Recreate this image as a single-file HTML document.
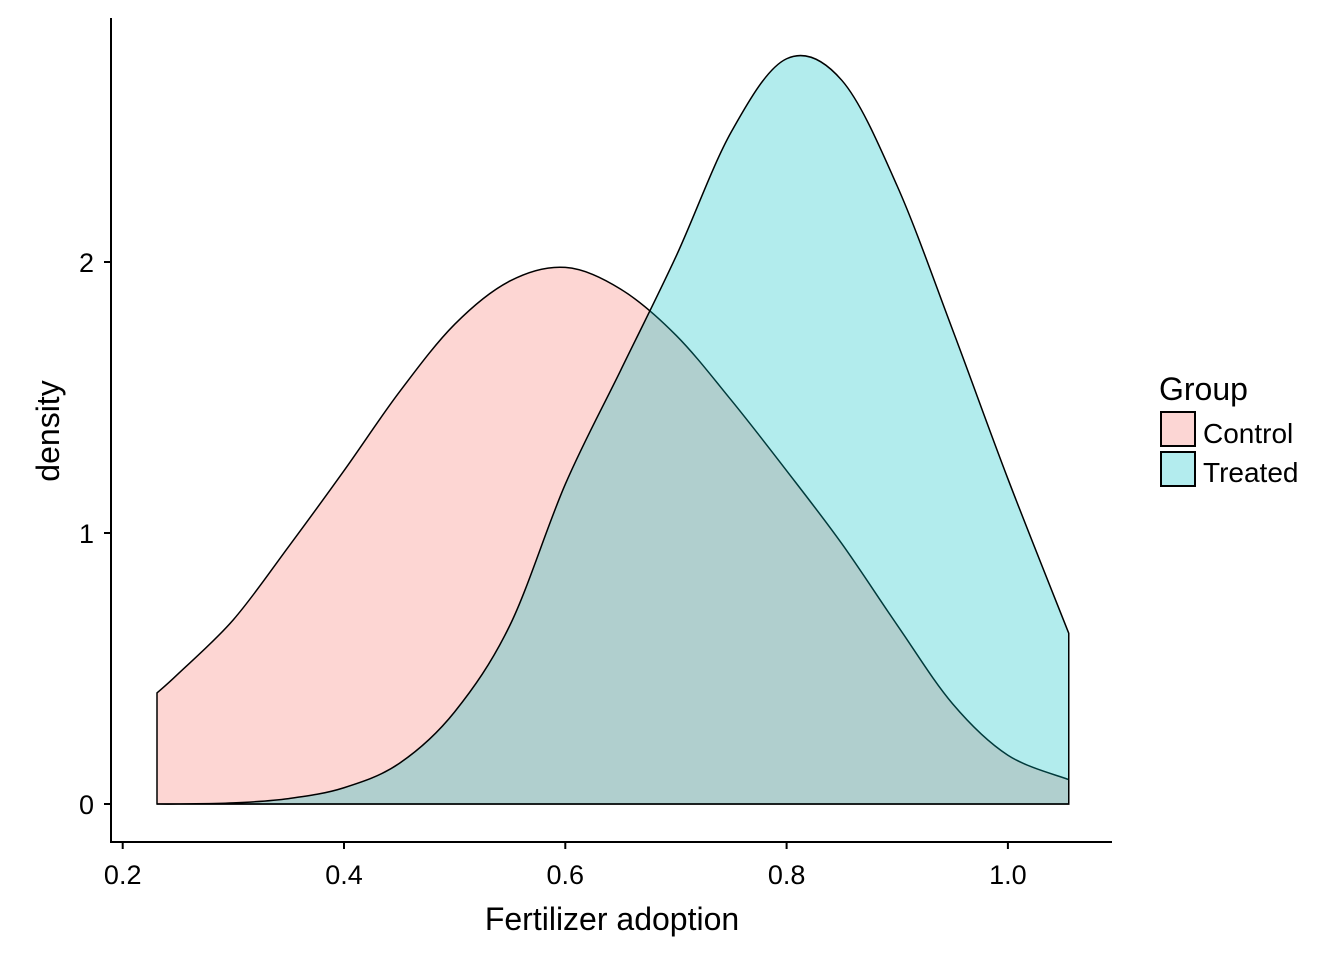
<!DOCTYPE html>
<html><head><meta charset="utf-8"><style>
body{margin:0;background:#fff}
svg text{font-family:"Liberation Sans",Arial,sans-serif;fill:#000}
</style></head><body>
<svg id="chart" width="1344" height="960" viewBox="0 0 1344 960">
<g id="plot"></g>
<line x1="111" y1="18" x2="111" y2="842" stroke="#000" stroke-width="2"/>
<line x1="110" y1="842" x2="1112" y2="842" stroke="#000" stroke-width="2"/>
<g id="xticks"></g>
<g id="yticks"></g>
<text x="612" y="930" font-size="32" text-anchor="middle">Fertilizer adoption</text>
<text x="0" y="0" font-size="32" text-anchor="middle" transform="translate(59,431) rotate(-90)">density</text>
<g>
<text x="1159" y="400" font-size="32">Group</text>
<rect x="1161" y="412" width="34" height="34" fill="#fcd6d4" stroke="#000" stroke-width="2"/>
<text x="1203" y="443" font-size="28">Control</text>
<rect x="1161" y="452" width="34" height="34" fill="#b3ecee" stroke="#000" stroke-width="2"/>
<text x="1203" y="482" font-size="28">Treated</text>
</g>
</svg>
<script>
const xGrid=[0.231,0.25,0.30,0.35,0.40,0.45,0.50,0.55,0.60,0.65,0.70,0.75,0.80,0.85,0.90,0.95,1.00,1.055];
const controlDensity=[0.41,0.48,0.68,0.95,1.23,1.52,1.77,1.93,1.98,1.90,1.73,1.49,1.23,0.96,0.66,0.37,0.18,0.09];
const treatedDensity=[0.0,0.0,0.004,0.02,0.06,0.15,0.34,0.66,1.18,1.60,2.02,2.48,2.75,2.67,2.28,1.75,1.20,0.63];
const xTicks=[0.2,0.4,0.6,0.8,1.0];
const xTickLabels=["0.2","0.4","0.6","0.8","1.0"];
const yTicks=[0,1,2];
const yTickLabels=["0","1","2"];
const NS="http://www.w3.org/2000/svg";
function sx(v){return 122.7+(v-0.2)*1106.5;}
function sy(v){return 804-v*271;}
function curvePath(xs,ys){
  const p=xs.map((x,i)=>[sx(x),sy(ys[i])]);
  let d="M"+sx(xs[0])+","+sy(0)+"L"+p[0][0]+","+p[0][1];
  for(let i=0;i<p.length-1;i++){
    const p0=p[Math.max(0,i-1)],p1=p[i],p2=p[i+1],p3=p[Math.min(p.length-1,i+2)];
    const c1x=p1[0]+(p2[0]-p0[0])/6,c1y=p1[1]+(p2[1]-p0[1])/6;
    const c2x=p2[0]-(p3[0]-p1[0])/6,c2y=p2[1]-(p3[1]-p1[1])/6;
    d+="C"+c1x+","+c1y+" "+c2x+","+c2y+" "+p2[0]+","+p2[1];
  }
  d+="L"+sx(xs[xs.length-1])+","+sy(0)+"Z";
  return d;
}
const plot=document.getElementById('plot');
[[controlDensity,'#F8766D','control-density-area'],[treatedDensity,'#00BFC4','treated-density-area']].forEach(s=>{
  const f=document.createElementNS(NS,'path');
  f.setAttribute('d',curvePath(xGrid,s[0]));
  f.setAttribute('fill',s[1]);f.setAttribute('fill-opacity','0.3');
  f.setAttribute('stroke','#000');f.setAttribute('stroke-width','1.5');
  
  
  plot.appendChild(f);
});
const xg=document.getElementById('xticks');
xTicks.forEach((t,i)=>{
  const l=document.createElementNS(NS,'line');
  l.setAttribute('x1',sx(t));l.setAttribute('x2',sx(t));l.setAttribute('y1',842);l.setAttribute('y2',849);
  l.setAttribute('stroke','#000');l.setAttribute('stroke-width','2');
  
  
  xg.appendChild(l);
  const tx=document.createElementNS(NS,'text');
  tx.setAttribute('x',sx(t));tx.setAttribute('y',884);tx.setAttribute('font-size','27');tx.setAttribute('text-anchor','middle');
  tx.textContent=xTickLabels[i];
  
  
  xg.appendChild(tx);
});
const yg=document.getElementById('yticks');
yTicks.forEach((t,i)=>{
  const l=document.createElementNS(NS,'line');
  l.setAttribute('x1',104);l.setAttribute('x2',111);l.setAttribute('y1',sy(t));l.setAttribute('y2',sy(t));
  l.setAttribute('stroke','#000');l.setAttribute('stroke-width','2');
  
  
  yg.appendChild(l);
  const tx=document.createElementNS(NS,'text');
  tx.setAttribute('x',94);tx.setAttribute('y',sy(t)+10);tx.setAttribute('font-size','27');tx.setAttribute('text-anchor','end');
  tx.textContent=yTickLabels[i];
  
  
  yg.appendChild(tx);
});
</script>
</body></html>
